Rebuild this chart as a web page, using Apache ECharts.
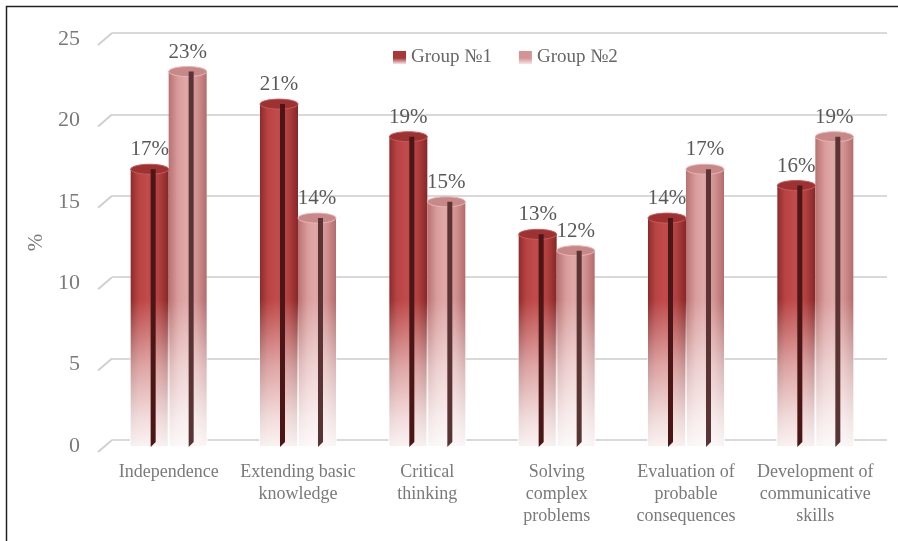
<!DOCTYPE html>
<html>
<head>
<meta charset="utf-8">
<script src="https://cdn.jsdelivr.net/npm/echarts@6/dist/echarts.min.js"></script>
<style>
  html, body { margin: 0; padding: 0; background: #fff; }
  #chart { width: 898px; height: 541px; }
</style>
</head>
<body>
<div id="chart"></div>
<script>
// 数据
var categories = ['Independence', 'Extending basic\nknowledge', 'Critical\nthinking', 'Solving\ncomplex\nproblems', 'Evaluation of\nprobable\nconsequences', 'Development of\ncommunicative\nskills']
var group1 = [17, 21, 19, 13, 14, 16]
var group2 = [23, 14, 15, 12, 17, 19]
var yTicks = [0, 5, 10, 15, 20, 25]
var seriesNames = ['Group №1', 'Group №2']

var font = 'Liberation Serif'
var barW = 38
var fadeFrom = 9 // 从这个值往下渐隐

// 每组柱子的颜色
var bodyStops = [
  [{ offset: 0, color: '#8e2b2b' }, { offset: 0.2, color: '#b84343' }, { offset: 0.45, color: '#c24b4b' }, { offset: 0.75, color: '#b23f3f' }, { offset: 1, color: '#862727' }],
  [{ offset: 0, color: '#b87171' }, { offset: 0.25, color: '#d99c9c' }, { offset: 0.45, color: '#e0a8a8' }, { offset: 0.75, color: '#d29191' }, { offset: 1, color: '#b36c6c' }]
]
var topFill = ['#9e3232', '#c98888']
var topStroke = ['#c45c5c', '#e6b6b6']
var stripeColor = ['#4a1616', '#5a3434']
var legendColor = ['#a83838', '#d49494']

var chart = echarts.init(document.getElementById('chart'))

// 圆柱装饰：渐隐、顶面椭圆、中间暗线
function makeDeco(g) {
  return function (params, api) {
    var i = api.value(0)
    var v = api.value(1)
    var top = api.coord([i, v])
    var base = api.coord([i, 0])
    var fadeY = api.coord([i, fadeFrom])[1]
    var x0 = top[0] + (g === 0 ? -barW : 0)
    var sx = x0 + 20
    return {
      type: 'group',
      children: [{
        type: 'rect',
        shape: { x: x0 - 1, y: top[1], width: barW + 2, height: base[1] - top[1] + 2 },
        style: {
          fill: new echarts.graphic.LinearGradient(0, fadeY, 0, base[1], [
            { offset: 0, color: 'rgba(255,255,255,0)' },
            { offset: 0.45, color: 'rgba(255,255,255,0.5)' },
            { offset: 0.8, color: 'rgba(255,255,255,0.8)' },
            { offset: 1, color: 'rgba(255,255,255,0.93)' }
          ], true)
        }
      }, {
        type: 'ellipse',
        shape: { cx: x0 + barW / 2, cy: top[1], rx: barW / 2, ry: 5 },
        style: { fill: topFill[g], stroke: topStroke[g], lineWidth: 1 }
      }, {
        type: 'polygon',
        shape: { points: [[sx, top[1]], [sx + 5, top[1]], [sx + 5, base[1] - 4], [sx, base[1] + 1]] },
        style: { fill: stripeColor[g] }
      }]
    }
  }
}

function toPairs(arr) {
  return arr.map(function (v, i) { return [i, v] })
}

var option = {
  backgroundColor: '#fff',
  animation: false,
  graphic: [{
    type: 'rect',
    shape: { x: 6.5, y: 6.5, width: 1000, height: 1000 },
    style: { fill: 'none', stroke: '#222', lineWidth: 1.5 },
    silent: true
  }],
  legend: {
    left: 388,
    top: 43,
    itemWidth: 13,
    itemHeight: 13,
    itemGap: 27,
    icon: 'rect',
    textStyle: { fontFamily: font, fontSize: 19, color: '#666' },
    data: seriesNames.map(function (n, k) {
      return {
        name: n,
        itemStyle: {
          color: new echarts.graphic.LinearGradient(0, 0, 0, 1, [
            { offset: 0, color: legendColor[k] },
            { offset: 0.55, color: legendColor[k] },
            { offset: 1, color: '#f6e4e4' }
          ])
        }
      }
    })
  },
  grid: [
    // 背景网格线
    { left: 112, right: 11, top: 33, bottom: 101 },
    // 柱子
    { left: 104, right: 18, top: 39, bottom: 95 }
  ],
  xAxis: [{
    gridIndex: 0,
    type: 'category',
    data: categories,
    show: false
  }, {
    gridIndex: 1,
    type: 'category',
    data: categories,
    axisLine: { show: false },
    axisTick: { show: false },
    axisLabel: {
      margin: 15,
      interval: 0,
      fontFamily: font,
      fontSize: 18,
      lineHeight: 22,
      color: '#7a7a7a'
    }
  }],
  yAxis: [{
    gridIndex: 0,
    type: 'value',
    min: 0,
    max: 25,
    interval: 5,
    axisLine: { show: false },
    axisTick: { show: false },
    axisLabel: { show: false },
    splitLine: { lineStyle: { color: '#d9d9d9', width: 2 } }
  }, {
    gridIndex: 1,
    type: 'value',
    min: 0,
    max: 25,
    interval: 5,
    name: '%',
    nameLocation: 'middle',
    nameGap: 50,
    nameTextStyle: { fontFamily: font, fontSize: 21, color: '#7a7a7a' },
    axisLine: { show: false },
    axisTick: { show: false },
    splitLine: { show: false },
    axisLabel: {
      margin: 24,
      padding: [9, 0, 0, 0],
      fontFamily: font,
      fontSize: 22,
      color: '#7a7a7a'
    }
  }],
  series: [{
    // 网格线左侧的3D斜线
    type: 'custom',
    xAxisIndex: 0,
    yAxisIndex: 0,
    silent: true,
    data: yTicks.map(function (t) { return [0, t] }),
    renderItem: function (params, api) {
      var p = api.coord([0, api.value(1)])
      var x = params.coordSys.x
      return {
        type: 'line',
        shape: { x1: x - 14, y1: p[1] + 12, x2: x, y2: p[1] },
        style: { stroke: '#d0d0d0', lineWidth: 2 }
      }
    }
  }].concat([group1, group2].map(function (d, g) {
    return {
      name: seriesNames[g],
      type: 'bar',
      xAxisIndex: 1,
      yAxisIndex: 1,
      barWidth: barW,
      barGap: '0%',
      data: d,
      itemStyle: { color: new echarts.graphic.LinearGradient(0, 0, 1, 0, bodyStops[g]) },
      label: {
        show: true,
        position: 'top',
        distance: 9,
        formatter: '{c}%',
        fontFamily: font,
        fontSize: 21,
        color: '#595959'
      }
    }
  })).concat([group1, group2].map(function (d, g) {
    return {
      name: seriesNames[g],
      type: 'custom',
      xAxisIndex: 1,
      yAxisIndex: 1,
      z: 3,
      silent: true,
      data: toPairs(d),
      renderItem: makeDeco(g)
    }
  }))
}

chart.setOption(option)
</script>
</body>
</html>
